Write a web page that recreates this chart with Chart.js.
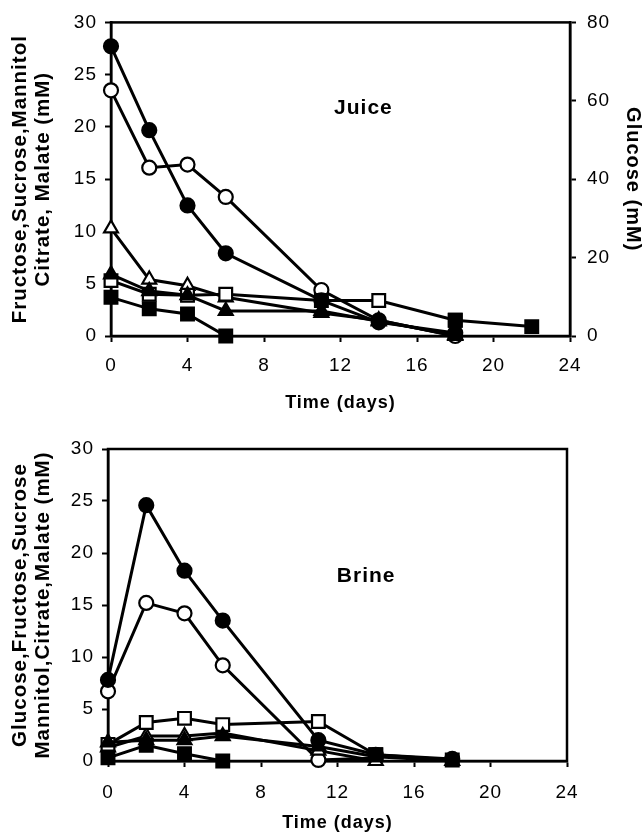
<!DOCTYPE html>
<html>
<head>
<meta charset="utf-8">
<script src="https://cdn.jsdelivr.net/npm/chart.js@4"></script>
<style>
  body { margin: 0; background: #fff; }
  canvas { display: block; }
</style>
</head>
<body>
<canvas id="juiceChart" width="644" height="420"></canvas>
<canvas id="brineChart" width="644" height="420"></canvas>
<script>
// Juice panel: filled circles = glucose, read on the right axis (mM)
const juiceDays = [0, 2, 4, 6, 11, 14, 18, 22];
const juiceGlucose = [73.9, 52.5, 33.3, 21.1, 9.1, 3.5, 0.8, null];
const juiceOpenCircle = [23.5, 16.1, 16.4, 13.3, 4.4, 1.5, 0, null];
const juiceOpenTriangle = [10.3, 5.4, 4.8, 3.7, 2.2, 1.5, 0, null];
const juiceFilledTriangle = [5.9, 4.3, 3.9, 2.4, 2.4, 1.4, 0.1, null];
const juiceOpenSquare = [5.3, 4.0, 3.9, 4.0, 3.4, 3.4, 1.5, null];
const juiceFilledSquare = [3.7, 2.6, 2.1, 0, null, null, 1.5, 0.9];

// Brine panel, all on the left axis (mM)
const brineDays = [0, 2, 4, 6, 11, 14, 18];
const brineFilledCircle = [7.8, 24.6, 18.3, 13.5, 2.0, 0.6, 0.2];
const brineOpenCircle = [6.7, 15.2, 14.2, 9.2, 0.1, 0.3, null];
const brineOpenSquare = [1.6, 3.7, 4.1, 3.5, 3.8, 0.6, null];
const brineOpenTriangle = [1.3, 2.4, 2.4, 2.7, 1.0, 0, null];
const brineFilledTriangle = [1.8, 2.0, 2.0, 2.4, 1.4, 0.4, 0];
const brineFilledSquare = [0.3, 1.5, 0.7, 0, null, 0.6, 0.1];

// tick labels
const dayTicks = [0, 4, 8, 12, 16, 20, 24];
const mMTicks = [0, 5, 10, 15, 20, 25, 30];
const glucoseTicks = [0, 20, 40, 60, 80];

Chart.defaults.font.family = 'Arial, "Liberation Sans", sans-serif';
Chart.defaults.color = '#000';

const markerSize = { circle: 7, rect: 9, triangle: 8 };

function series(days, values, style, filled, axis) {
    return {
        data: days.map((d, i) => ({ x: d, y: values[i] })),
        yAxisID: axis || 'y',
        borderColor: '#000',
        borderWidth: 3,
        pointStyle: style,
        pointRadius: markerSize[style],
        pointBorderWidth: 2.2,
        pointBorderColor: '#000',
        pointBackgroundColor: filled ? '#000' : '#fff',
        fill: false,
        tension: 0,
        spanGaps: false,
        clip: false
    };
}

function fixedTicks(values) {
    return function (scale) {
        scale.ticks = values.map(v => ({ value: v }));
    };
}

function xAxis(height, labelPad, titlePad) {
    return {
        type: 'linear', min: 0, max: 24,
        afterBuildTicks: fixedTicks(dayTicks),
        afterFit: s => { s.height = height; },
        grid: { drawOnChartArea: false, tickLength: 6, tickColor: '#000', tickWidth: 2 },
        border: { color: '#000', width: 2.5 },
        ticks: { font: { size: 19 }, padding: labelPad, maxRotation: 0 },
        title: { display: true, text: 'Time (days)', font: { size: 18, weight: 'bold' }, padding: { top: 0, bottom: titlePad } }
    };
}

function yAxis(width, lines) {
    return {
        type: 'linear', position: 'left', min: 0, max: 30,
        afterBuildTicks: fixedTicks(mMTicks),
        afterFit: s => { s.width = width; },
        grid: { drawOnChartArea: false, tickLength: 6, tickColor: '#000', tickWidth: 2 },
        border: { color: '#000', width: 2.5 },
        ticks: { font: { size: 19 }, padding: 8 },
        title: { display: true, text: lines, font: { size: 20.5, weight: 'bold', lineHeight: 1.12 }, padding: { top: 8.5, bottom: 0 } }
    };
}

// the figure's lettering is set a little wide
const wideText = {
    id: 'wideText',
    beforeDraw(chart) { chart.ctx.letterSpacing = '1px'; },
    afterDraw(chart) { chart.ctx.letterSpacing = '0px'; }
};

// box round the plot area
const framePlugin = {
    id: 'frame',
    beforeDatasetsDraw(chart) {
        const { ctx, chartArea: a } = chart;
        ctx.save();
        ctx.strokeStyle = '#000';
        ctx.lineWidth = 2.5;
        ctx.strokeRect(a.left, a.top, a.right - a.left, a.bottom - a.top);
        ctx.restore();
    }
};

const panelLabel = {
    id: 'panelLabel',
    afterDatasetsDraw(chart, args, opts) {
        const { ctx, scales } = chart;
        ctx.save();
        ctx.font = 'bold 21px Arial, "Liberation Sans", sans-serif';
        ctx.fillStyle = '#000';
        ctx.textAlign = 'center';
        ctx.textBaseline = 'middle';
        ctx.fillText(opts.text, scales.x.getPixelForValue(opts.x), scales.y.getPixelForValue(opts.y));
        ctx.restore();
    }
};

new Chart(document.getElementById('juiceChart'), {
    type: 'line',
    data: {
        datasets: [
            series(juiceDays, juiceFilledSquare, 'rect', true),
            series(juiceDays, juiceFilledTriangle, 'triangle', true),
            series(juiceDays, juiceGlucose, 'circle', true, 'y2'),
            series(juiceDays, juiceOpenSquare, 'rect', false),
            series(juiceDays, juiceOpenTriangle, 'triangle', false),
            series(juiceDays, juiceOpenCircle, 'circle', false)
        ]
    },
    options: {
        responsive: false,
        animation: false,
        layout: { padding: { top: 21, right: 0, bottom: 0, left: 0 } },
        plugins: {
            legend: { display: false },
            tooltip: { enabled: false },
            panelLabel: { text: 'Juice', x: 13.2, y: 21.8 }
        },
        scales: {
            x: xAxis(84, 12.6, 6.6),
            y: yAxis(111, ['Fructose,Sucrose,Mannitol', 'Citrate, Malate (mM)']),
            y2: {
                type: 'linear', position: 'right', min: 0, max: 80,
                afterBuildTicks: fixedTicks(glucoseTicks),
                afterFit: s => { s.width = 74; },
                grid: { drawOnChartArea: false, tickLength: 6, tickColor: '#000', tickWidth: 2 },
                border: { color: '#000', width: 2.5 },
                ticks: { font: { size: 19 }, padding: 11 },
                title: { display: true, text: 'Glucose (mM)', font: { size: 20, weight: 'bold', lineHeight: 1.15 }, padding: { top: 0, bottom: 0 } }
            }
        }
    },
    plugins: [wideText, framePlugin, panelLabel]
});

new Chart(document.getElementById('brineChart'), {
    type: 'line',
    data: {
        datasets: [
            series(brineDays, brineFilledSquare, 'rect', true),
            series(brineDays, brineFilledTriangle, 'triangle', true),
            series(brineDays, brineOpenSquare, 'rect', false),
            series(brineDays, brineOpenTriangle, 'triangle', false),
            series(brineDays, brineFilledCircle, 'circle', true),
            series(brineDays, brineOpenCircle, 'circle', false)
        ]
    },
    options: {
        responsive: false,
        animation: false,
        layout: { padding: { top: 29, right: 77, bottom: 0, left: 0 } },
        plugins: {
            legend: { display: false },
            tooltip: { enabled: false },
            panelLabel: { text: 'Brine', x: 13.5, y: 17.8 }
        },
        scales: {
            x: xAxis(79, 14, 6.6),
            y: yAxis(108, ['Glucose,Fructose,Sucrose', 'Mannitol,Citrate,Malate (mM)'])
        }
    },
    plugins: [wideText, framePlugin, panelLabel]
});
</script>
</body>
</html>
